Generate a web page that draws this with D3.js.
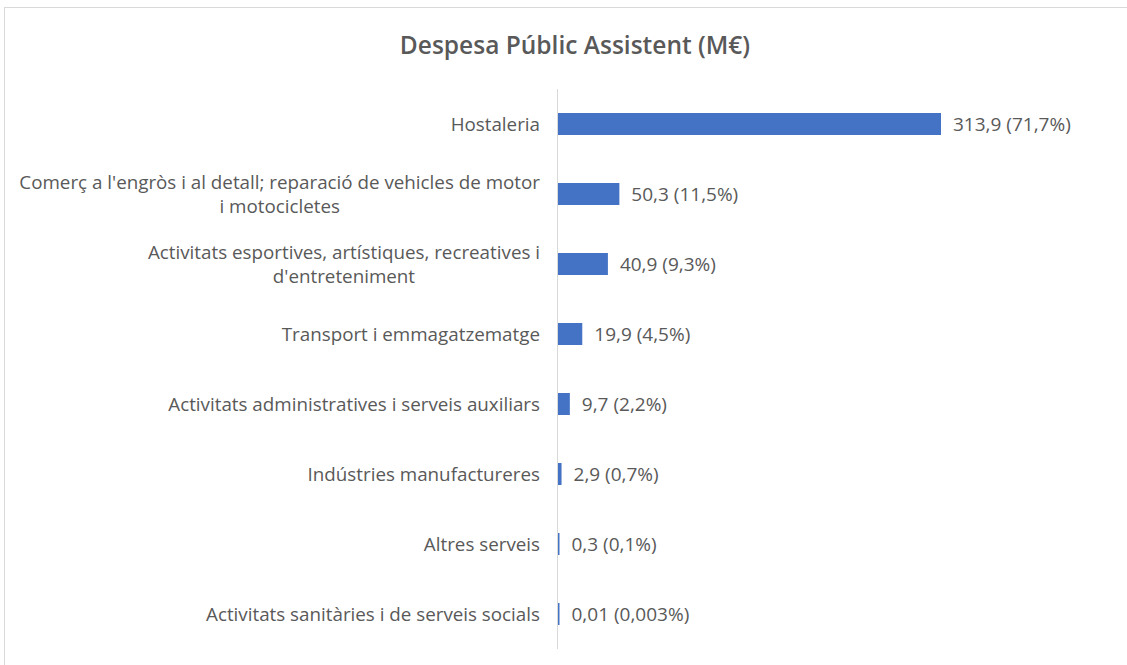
<!DOCTYPE html>
<html>
<head>
<meta charset="utf-8">
<script src="https://cdn.jsdelivr.net/npm/d3@7"></script>
<style>
  body { margin: 0; background: #fff; }
  #chart { width: 1127px; height: 665px; }
  text { font-family: "Open Sans", sans-serif; fill: #595959; }
</style>
</head>
<body>
<div id="chart"></div>
<script>
// data
const categories = [
    "Hostaleria",
    "Comerç a l'engròs i al detall; reparació de vehicles de motor\ni motocicletes",
    "Activitats esportives, artístiques, recreatives i\nd'entreteniment",
    "Transport i emmagatzematge",
    "Activitats administratives i serveis auxiliars",
    "Indústries manufactureres",
    "Altres serveis",
    "Activitats sanitàries i de serveis socials"
];
const values = [313.9, 50.3, 40.9, 19.9, 9.7, 2.9, 0.3, 0.01];
const shares = [71.7, 11.5, 9.3, 4.5, 2.2, 0.7, 0.1, 0.003];

const data = categories.map((c, i) => ({ cat: c, value: values[i], share: shares[i] }));

const width = 1127;
const height = 665;
const margin = { top: 89, left: 558, right: 186, bottom: 16 };

const svg = d3.select("#chart")
    .append("svg")
    .attr("width", width)
    .attr("height", height);

// chart area border
svg.append("rect")
    .attr("x", 4.5)
    .attr("y", 7.5)
    .attr("width", width + 10)
    .attr("height", height + 10)
    .attr("fill", "none")
    .attr("stroke", "#d9d9d9");

svg.append("text")
    .attr("x", 575)
    .attr("y", 54)
    .attr("text-anchor", "middle")
    .attr("font-size", 24.5)
    .attr("font-weight", 600)
    .text("Despesa Públic Assistent (M€)");

const xScale = d3.scaleLinear()
    .domain([0, 313.9])
    .range([margin.left, 941]);

const yScale = d3.scaleBand()
    .domain(categories)
    .range([margin.top, height - margin.bottom]);

const barH = 22;
const comma = v => String(v).replace(".", ",");

svg.selectAll("rect.bar")
    .data(data)
    .enter()
    .append("rect")
    .attr("class", "bar")
    .attr("x", xScale(0))
    .attr("y", d => yScale(d.cat) + yScale.bandwidth() / 2 - barH / 2)
    .attr("width", d => Math.max(1.5, xScale(d.value) - xScale(0)))
    .attr("height", barH)
    .attr("fill", "#4472C4");

// vertical category axis line
svg.append("line")
    .attr("x1", xScale(0) - 0.5)
    .attr("x2", xScale(0) - 0.5)
    .attr("y1", margin.top)
    .attr("y2", height - margin.bottom)
    .attr("stroke", "#d9d9d9");

// value labels
svg.selectAll("text.value")
    .data(data)
    .enter()
    .append("text")
    .attr("class", "value")
    .attr("x", d => xScale(0) + Math.max(1.5, xScale(d.value) - xScale(0)) + 12)
    .attr("y", d => yScale(d.cat) + yScale.bandwidth() / 2)
    .attr("dy", "0.35em")
    .attr("font-size", 19)
    .text(d => `${comma(d.value)} (${comma(d.share)}%)`);

// category labels, wrapped lines centred inside a right-aligned block
const labelRight = 540;
const lineH = 24;
const labels = svg.append("g");
data.forEach(d => {
    const lines = d.cat.split("\n");
    const g = labels.append("g");
    const cy = yScale(d.cat) + yScale.bandwidth() / 2;
    const texts = lines.map((l, i) => g.append("text")
        .attr("y", cy + (i - (lines.length - 1) / 2) * lineH)
        .attr("dy", "0.35em")
        .attr("font-size", 18.8)
        .attr("text-anchor", "middle")
        .text(l));
    const maxW = d3.max(texts, t => t.node().getComputedTextLength());
    texts.forEach(t => t.attr("x", labelRight - maxW / 2));
});
</script>
</body>
</html>
